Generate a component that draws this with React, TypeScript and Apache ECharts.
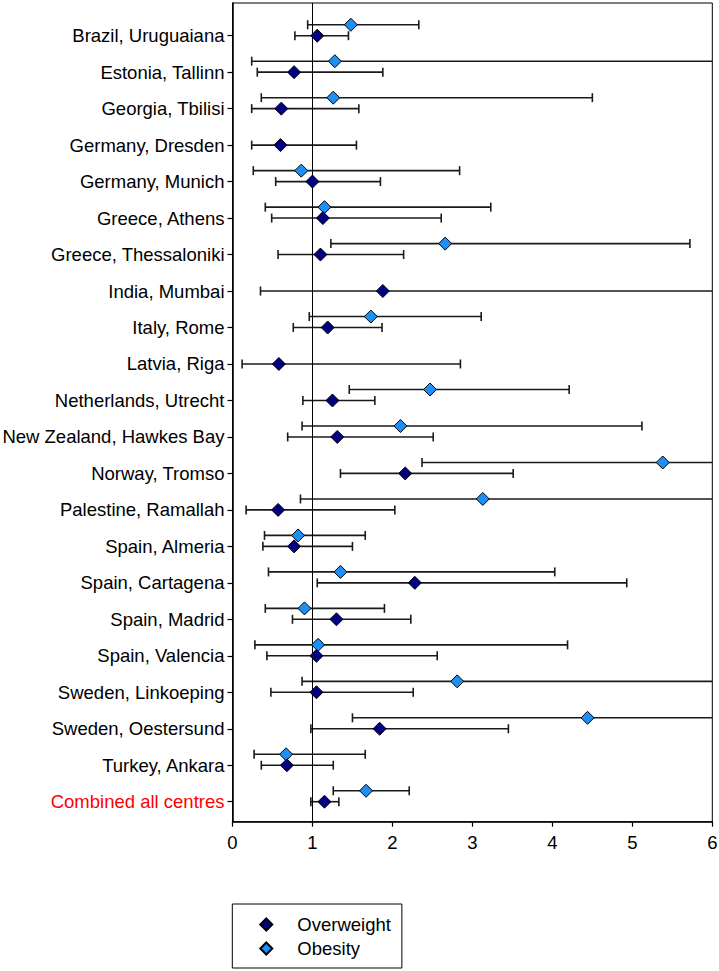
import React, { useEffect, useRef } from "react";
import * as echarts from "echarts";

const categories = [
  "Brazil, Uruguaiana",
  "Estonia, Tallinn",
  "Georgia, Tbilisi",
  "Germany, Dresden",
  "Germany, Munich",
  "Greece, Athens",
  "Greece, Thessaloniki",
  "India, Mumbai",
  "Italy, Rome",
  "Latvia, Riga",
  "Netherlands, Utrecht",
  "New Zealand, Hawkes Bay",
  "Norway, Tromso",
  "Palestine, Ramallah",
  "Spain, Almeria",
  "Spain, Cartagena",
  "Spain, Madrid",
  "Spain, Valencia",
  "Sweden, Linkoeping",
  "Sweden, Oestersund",
  "Turkey, Ankara",
  "Combined all centres",
];

const overweightOR = [1.06, 0.77, 0.61, 0.6, 1.0, 1.13, 1.1, 1.88, 1.19, 0.58, 1.25, 1.31, 2.16, 0.57, 0.77, 2.28, 1.3, 1.05, 1.05, 1.84, 0.68, 1.15];
const overweightLow = [0.78, 0.31, 0.24, 0.24, 0.54, 0.49, 0.57, 0.35, 0.76, 0.12, 0.88, 0.69, 1.35, 0.17, 0.38, 1.06, 0.75, 0.43, 0.48, 0.98, 0.36, 0.98];
const overweightHigh = [1.45, 1.88, 1.58, 1.55, 1.85, 2.61, 2.14, 7.2, 1.87, 2.85, 1.78, 2.51, 3.51, 2.03, 1.5, 4.93, 2.23, 2.56, 2.26, 3.45, 1.26, 1.33];

const obesityOR = [1.48, 1.28, 1.26, null, 0.86, 1.15, 2.66, null, 1.73, null, 2.47, 2.1, 5.38, 3.13, 0.82, 1.35, 0.9, 1.07, 2.81, 4.44, 0.67, 1.67];
const obesityLow = [0.94, 0.24, 0.36, null, 0.26, 0.41, 1.23, null, 0.96, null, 1.46, 0.87, 2.37, 0.85, 0.4, 0.45, 0.41, 0.28, 0.87, 1.5, 0.27, 1.26];
const obesityHigh = [2.33, 7.5, 4.5, null, 2.84, 3.23, 5.72, null, 3.11, null, 4.21, 5.12, 9.0, 8.0, 1.66, 4.03, 1.9, 4.19, 7.6, 12.0, 1.66, 2.21];

const xTicks = [0, 1, 2, 3, 4, 5, 6];

const OBESITY_SHIFT = 0.3;
const X_MIN = 0;
const X_MAX = 6;

export default function App() {
  const ref = useRef<HTMLDivElement>(null);

  useEffect(() => {
    if (!ref.current) return;
    const chart = echarts.init(ref.current, null, { renderer: "svg" });

    const rowIdx = categories.map((_, i) => i);

    const owPoints = rowIdx.map((i) => [overweightOR[i], i]);
    const owBars = rowIdx.map((i) => [overweightLow[i], overweightHigh[i], i]);
    const obPoints = rowIdx
      .filter((i) => obesityOR[i] != null)
      .map((i) => [obesityOR[i], i - OBESITY_SHIFT]);
    const obBars = rowIdx
      .filter((i) => obesityOR[i] != null)
      .map((i) => [obesityLow[i], obesityHigh[i], i - OBESITY_SHIFT]);

    const renderBar = (params: any, api: any) => {
      const lo = api.value(0);
      const hi = api.value(1);
      const y = api.value(2);
      const p1 = api.coord([Math.max(lo, X_MIN), y]);
      const p2 = api.coord([Math.min(hi, X_MAX), y]);
      const cap = 4.5;
      const st = { stroke: "#1a1a1a", lineWidth: 1.6 };
      const children: any[] = [
        { type: "line", shape: { x1: p1[0], y1: p1[1], x2: p2[0], y2: p2[1] }, style: st },
      ];
      if (lo >= X_MIN)
        children.push({ type: "line", shape: { x1: p1[0], y1: p1[1] - cap, x2: p1[0], y2: p1[1] + cap }, style: st });
      if (hi <= X_MAX)
        children.push({ type: "line", shape: { x1: p2[0], y1: p2[1] - cap, x2: p2[0], y2: p2[1] + cap }, style: st });
      return { type: "group", children };
    };

    const labelFont = "'Liberation Sans', Arial, sans-serif";
    const fs = 18.5;

    chart.setOption({
      animation: false,
      backgroundColor: "#ffffff",
      textStyle: { fontFamily: labelFont },
      grid: {
        left: 232.5,
        right: 6.7,
        top: 3,
        bottom: 149.3,
        show: true,
        borderColor: "#000",
        borderWidth: 1,
        backgroundColor: "transparent",
        containLabel: false,
        outerBoundsMode: "none",
      },
      legend: {
        orient: "vertical",
        left: 232.3,
        top: 904,
        data: ["Overweight", "Obesity"],
        icon: "diamond",
        itemWidth: 12,
        itemHeight: 12,
        itemGap: 5,
        padding: [11, 11, 10, 27],
        borderColor: "#000",
        borderWidth: 1,
        borderRadius: 0,
        textStyle: { fontSize: fs, color: "#000", fontFamily: labelFont, padding: [0, 0, 0, 20] },
        selectedMode: false,
      },
      xAxis: {
        type: "value",
        min: X_MIN,
        max: X_MAX,
        interval: 1,
        splitLine: { show: false },
        axisLine: { show: true, onZero: false, lineStyle: { color: "#000", width: 1.5 } },
        axisTick: { show: true, length: 5, lineStyle: { color: "#000", width: 1.2 }, customValues: xTicks },
        axisLabel: {
          fontSize: fs,
          color: "#000",
          margin: 11,
          fontFamily: labelFont,
          customValues: xTicks,
          formatter: (v: number) => String(v),
        },
      },
      yAxis: {
        type: "value",
        inverse: true,
        min: -0.896,
        max: 21.548,
        splitLine: { show: false },
        axisLine: { show: true, onZero: false, lineStyle: { color: "#000", width: 1.5 } },
        axisTick: { show: true, length: 5, lineStyle: { color: "#000", width: 1.2 }, customValues: rowIdx },
        axisLabel: {
          fontSize: fs,
          color: "#000",
          margin: 8,
          fontFamily: labelFont,
          customValues: rowIdx,
          formatter: (v: number) => {
            const i = Math.round(v);
            const name = categories[i] ?? "";
            return i === categories.length - 1 ? `{red|${name}}` : name;
          },
          rich: { red: { color: "#ff0000", fontSize: fs, fontFamily: labelFont } },
        },
      },
      series: [
        {
          name: "ObesityCI",
          type: "custom",
          renderItem: renderBar,
          data: obBars,
          encode: { x: [0, 1], y: 2 },
          silent: true,
          z: 2,
        },
        {
          name: "OverweightCI",
          type: "custom",
          renderItem: renderBar,
          data: owBars,
          encode: { x: [0, 1], y: 2 },
          silent: true,
          z: 2,
          markLine: {
            silent: true,
            symbol: ["none", "none"],
            label: { show: false },
            lineStyle: { color: "#000", width: 1, type: "solid" },
            data: [{ xAxis: 1 }],
          },
        },
        {
          name: "Obesity",
          type: "scatter",
          data: obPoints,
          symbol: "diamond",
          symbolSize: 13,
          itemStyle: { color: "#1E8FF5", borderColor: "#000", borderWidth: 1, opacity: 1 },
          z: 5,
        },
        {
          name: "Overweight",
          type: "scatter",
          data: owPoints,
          symbol: "diamond",
          symbolSize: 13,
          itemStyle: { color: "#000080", borderColor: "#000", borderWidth: 1, opacity: 1 },
          z: 5,
        },
      ],
    });

    return () => chart.dispose();
  }, []);

  return (
    <div
      ref={ref}
      style={{ position: "fixed", left: 0, top: 0, width: 719, height: 971, background: "#fff" }}
    />
  );
}
